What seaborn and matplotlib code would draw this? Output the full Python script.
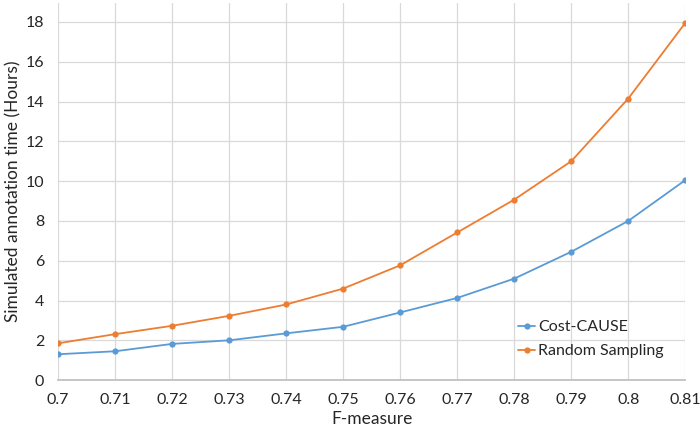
import pandas as pd
import seaborn as sns
import matplotlib.pyplot as plt

# --- data ---
f_measure = [0.70, 0.71, 0.72, 0.73, 0.74, 0.75, 0.76, 0.77, 0.78, 0.79, 0.80, 0.81]
cost_cause = [1.30, 1.45, 1.82, 2.00, 2.35, 2.68, 3.40, 4.13, 5.10, 6.45, 8.00, 10.05]
random_sampling = [1.85, 2.31, 2.73, 3.23, 3.80, 4.60, 5.77, 7.42, 9.07, 11.00, 14.15, 17.95]
x_labels = ['0.7', '0.71', '0.72', '0.73', '0.74', '0.75', '0.76', '0.77', '0.78', '0.79', '0.8', '0.81']

df = pd.DataFrame({
    'F-measure': f_measure * 2,
    'Hours': cost_cause + random_sampling,
    'Method': ['Cost-CAUSE'] * len(f_measure) + ['Random Sampling'] * len(f_measure),
})

sns.set_theme(style='whitegrid')
plt.rcParams['font.family'] = ['Lato', 'DejaVu Sans']

fig = plt.figure(figsize=(7, 4.3), dpi=100)
ax = fig.add_axes([0.083, 0.116, 0.896, 0.877])

palette = {'Cost-CAUSE': '#5B9BD5', 'Random Sampling': '#ED7D31'}
sns.lineplot(data=df, x='F-measure', y='Hours', hue='Method', palette=palette,
             marker='o', markersize=4.5, markeredgewidth=0, linewidth=1.3, ax=ax)

ax.set_xlim(0.70, 0.81)
ax.set_ylim(0, 18.95)
ax.set_xticks(f_measure)
ax.set_xticklabels(x_labels)
ax.set_yticks(range(0, 19, 2))
ax.grid(True, color='#D9D9D9', linewidth=0.9)
for side in ['top', 'right', 'left']:
    ax.spines[side].set_visible(False)
ax.spines['bottom'].set_color('#BFBFBF')
ax.tick_params(axis='both', labelsize=11.5, colors='#262626', length=0)
ax.tick_params(axis='x', pad=9)
ax.tick_params(axis='y', pad=10)
ax.set_xlabel('F-measure', fontsize=12.5, color='#262626', labelpad=3)
ax.set_ylabel('Simulated annotation time (Hours)', fontsize=12.5, color='#262626', labelpad=3)

leg = ax.legend(loc='lower left', bbox_to_anchor=(0.71, 0.02), frameon=False,
                fontsize=11.5, handlelength=1.1, handletextpad=0.15, labelspacing=0.6)
for t in leg.get_texts():
    t.set_color('#262626')

fig.savefig('out.png', dpi=100)
